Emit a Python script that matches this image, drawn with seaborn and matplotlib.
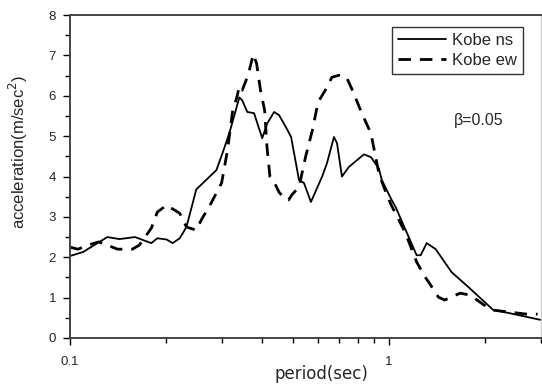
import numpy as np
import pandas as pd
import matplotlib
matplotlib.use("Agg")
import matplotlib.pyplot as plt
import matplotlib.ticker as mticker
import seaborn as sns

# Kobe ns (solid)
ns_period = [0.100, 0.110, 0.131, 0.143, 0.160, 0.180, 0.188, 0.201, 0.210, 0.221,
             0.232, 0.249, 0.288, 0.301, 0.316, 0.340, 0.347, 0.360, 0.378, 0.401,
             0.416, 0.437, 0.453, 0.476, 0.494, 0.523, 0.542, 0.570, 0.618, 0.640,
             0.673, 0.688, 0.713, 0.750, 0.836, 0.879, 0.931, 0.951, 1.021, 1.051,
             1.223, 1.259, 1.315, 1.403, 1.574, 1.778, 2.128, 2.371, 2.985]
ns_acc = [2.03, 2.13, 2.50, 2.45, 2.50, 2.35, 2.47, 2.44, 2.35, 2.47,
          2.75, 3.68, 4.16, 4.58, 5.07, 5.96, 5.89, 5.60, 5.57, 4.95,
          5.32, 5.60, 5.52, 5.22, 4.98, 3.91, 3.84, 3.37, 4.00, 4.33,
          4.98, 4.83, 4.00, 4.24, 4.55, 4.48, 4.20, 3.91, 3.42, 3.24,
          2.05, 2.05, 2.35, 2.20, 1.63, 1.26, 0.69, 0.62, 0.45]

# Kobe ew (dashed)
ew_period = [0.100, 0.106, 0.114, 0.123, 0.131, 0.141, 0.157, 0.165, 0.180, 0.188,
             0.201, 0.221, 0.232, 0.249, 0.258, 0.275, 0.299, 0.312, 0.324, 0.334,
             0.340, 0.347, 0.362, 0.376, 0.385, 0.396, 0.408, 0.415, 0.424, 0.437,
             0.453, 0.476, 0.485, 0.497, 0.523, 0.548, 0.576, 0.600, 0.640, 0.663,
             0.699, 0.737, 0.769, 0.823, 0.879, 0.931, 0.981, 1.017, 1.128, 1.223,
             1.300, 1.340, 1.432, 1.497, 1.675, 1.801, 1.986, 2.128, 2.392, 2.711,
             2.929]
ew_acc = [2.25, 2.20, 2.30, 2.38, 2.30, 2.20, 2.20, 2.30, 2.72, 3.12,
          3.29, 3.09, 2.75, 2.67, 2.92, 3.29, 3.84, 4.65, 5.64, 5.97,
          6.24, 6.14, 6.51, 7.03, 6.80, 6.14, 5.64, 4.73, 3.99, 3.86,
          3.61, 3.42, 3.42, 3.55, 3.74, 4.48, 5.15, 5.84, 6.21, 6.46,
          6.51, 6.46, 6.14, 5.57, 5.07, 4.08, 3.59, 3.30, 2.60, 1.88,
          1.51, 1.36, 1.01, 0.94, 1.11, 1.06, 0.82, 0.69, 0.64, 0.59,
          0.59]

df = pd.concat([
    pd.DataFrame({"period": ns_period, "acc": ns_acc, "record": "Kobe ns"}),
    pd.DataFrame({"period": ew_period, "acc": ew_acc, "record": "Kobe ew"}),
])

sns.set_style("ticks")
plt.rcParams['font.family'] = ['Liberation Sans', 'DejaVu Sans']

fig = plt.figure(figsize=(5.42, 3.88), dpi=100)
ax = fig.add_axes([0.129, 0.129, 0.869, 0.832])

sns.lineplot(data=df, x="period", y="acc", hue="record", style="record",
             palette={"Kobe ns": "black", "Kobe ew": "black"},
             dashes={"Kobe ns": "", "Kobe ew": (4.5, 3.2)},
             sort=False, estimator=None, ax=ax)
for ln in ax.get_lines():
    if ln.get_linestyle() == '-':
        ln.set_linewidth(1.3)
    else:
        ln.set_linewidth(2.0)

ax.set_xscale("log")
ax.set_xlim(0.1, 3.0)
ax.set_ylim(0, 8)
ax.xaxis.set_major_locator(mticker.FixedLocator([0.1, 1]))
ax.xaxis.set_major_formatter(mticker.FixedFormatter(["0.1", "1"]))
ax.xaxis.set_minor_locator(mticker.LogLocator(base=10, subs=np.arange(2, 10)))
ax.xaxis.set_minor_formatter(mticker.NullFormatter())
ax.yaxis.set_major_locator(mticker.MultipleLocator(1))
ax.yaxis.set_minor_locator(mticker.MultipleLocator(0.5))
ax.tick_params(which="major", length=5, width=1, labelsize=9.5, color="black")
ax.tick_params(which="minor", length=3.5, width=1, color="black")
ax.tick_params(axis="x", which="major", pad=8)
ax.tick_params(axis="y", which="major", pad=5)

for side in ["left", "bottom", "top"]:
    ax.spines[side].set_color("#444444")
    ax.spines[side].set_linewidth(1.4)
ax.spines["right"].set_color("#cccccc")
ax.spines["right"].set_linewidth(1.0)

ax.set_xlabel("period(sec)", fontsize=12, family=['DejaVu Sans'])
ax.set_ylabel("acceleration(m/sec$^2$)", fontsize=12)
ax.xaxis.set_label_coords(0.535, -0.111)
ax.xaxis.label.set_va("center")
ax.yaxis.set_label_coords(-0.110, 0.576)
ax.yaxis.label.set_va("center")

leg = ax.legend(title=None, loc="upper right", bbox_to_anchor=(0.962, 0.962),
                frameon=True, fancybox=False, edgecolor="black", fontsize=12,
                handlelength=2.9, borderpad=0.35, labelspacing=0.3,
                handletextpad=0.35, borderaxespad=0)
leg.get_frame().set_linewidth(1.0)
for h in leg.get_lines():
    h.set_color("black")

ax.text(1.91, 5.40, "β=0.05", fontsize=11.5, ha="center", va="center")

fig.savefig("out.png", dpi=100)
